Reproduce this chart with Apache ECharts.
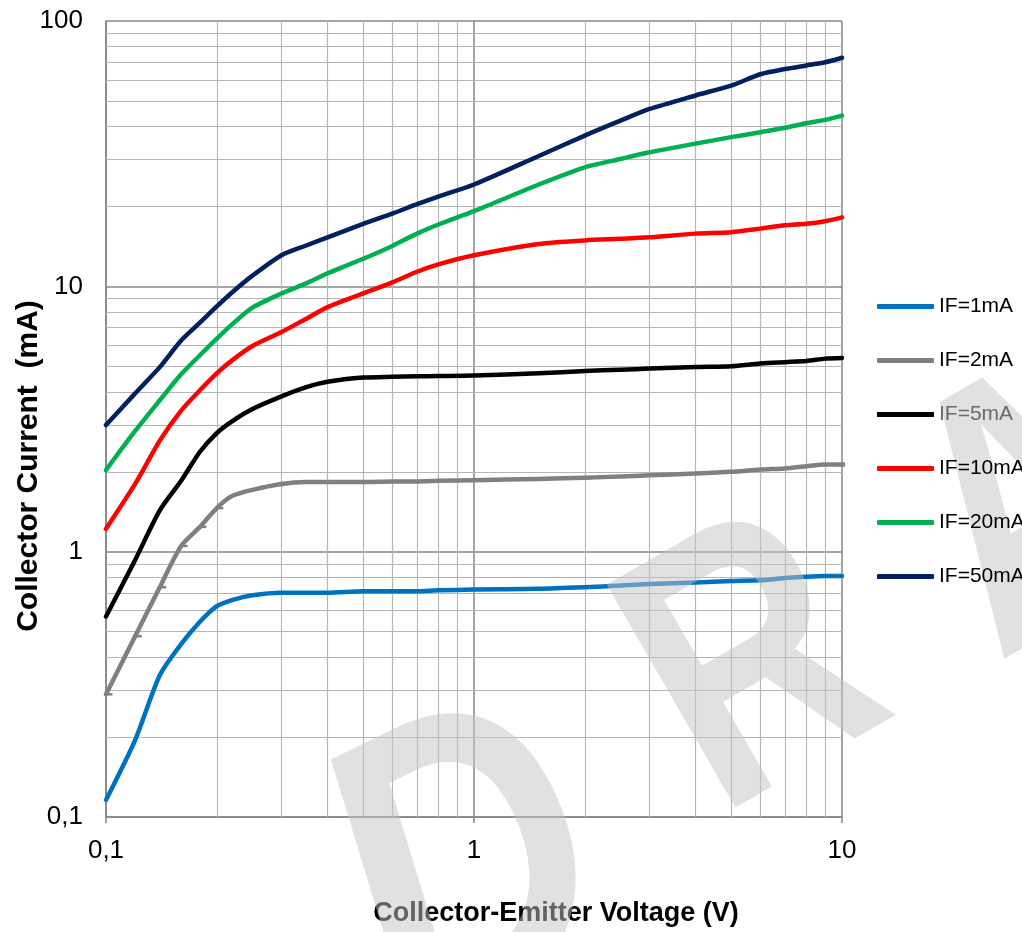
<!DOCTYPE html>
<html>
<head>
<meta charset="utf-8">
<script src="https://cdn.jsdelivr.net/npm/echarts@6/dist/echarts.min.js"></script>
<style>
html,body{margin:0;padding:0;background:#fff;}
#chart{width:1022px;height:932px;}
</style>
</head>
<body>
<div id="chart"></div>
<script>
// Collector-Emitter Voltage (V)
const voltages = [0.1, 0.12, 0.14, 0.16, 0.18, 0.2, 0.22, 0.25, 0.3, 0.35, 0.4, 0.5, 0.6, 0.7, 0.8, 1, 1.5, 2, 2.5, 3, 4, 5, 6, 7, 8, 9, 10];
// Collector Current (mA) per forward current
const if1mA  = [0.116, 0.195, 0.342, 0.448, 0.544, 0.623, 0.657, 0.685, 0.70, 0.70, 0.70, 0.71, 0.71, 0.71, 0.715, 0.72, 0.725, 0.735, 0.745, 0.755, 0.765, 0.775, 0.78, 0.795, 0.805, 0.81, 0.81];
const if2mA  = [0.29, 0.48, 0.735, 1.05, 1.24, 1.46, 1.62, 1.71, 1.80, 1.83, 1.83, 1.83, 1.84, 1.84, 1.85, 1.86, 1.88, 1.90, 1.92, 1.94, 1.97, 2.0, 2.04, 2.06, 2.10, 2.13, 2.13];
const if5mA  = [0.57, 0.93, 1.43, 1.85, 2.38, 2.80, 3.10, 3.45, 3.85, 4.17, 4.37, 4.53, 4.56, 4.58, 4.59, 4.61, 4.70, 4.80, 4.85, 4.90, 4.97, 5.0, 5.12, 5.18, 5.23, 5.34, 5.37];
const if10mA = [1.22, 1.80, 2.62, 3.40, 4.06, 4.70, 5.26, 5.96, 6.73, 7.55, 8.35, 9.4, 10.35, 11.35, 12.1, 13.1, 14.45, 14.9, 15.1, 15.3, 15.8, 16.0, 16.5, 17.0, 17.2, 17.6, 18.2];
const if20mA = [2.03, 2.85, 3.72, 4.66, 5.5, 6.35, 7.19, 8.31, 9.4, 10.26, 11.2, 12.7, 14.2, 15.8, 17.1, 19.2, 24.2, 28.1, 30.2, 32.0, 34.5, 36.5, 38.1, 39.6, 41.2, 42.4, 44.0];
const if50mA = [3.0, 3.95, 4.96, 6.25, 7.3, 8.4, 9.48, 10.97, 13.1, 14.25, 15.3, 17.2, 18.8, 20.4, 21.8, 24.2, 31.0, 37.0, 42.1, 46.6, 52.4, 57.1, 63.0, 65.9, 68.0, 69.9, 72.7];
const grayTail = [10.5, 2.13];

const seriesNames  = ['IF=1mA', 'IF=2mA', 'IF=5mA', 'IF=10mA', 'IF=20mA', 'IF=50mA'];
const seriesColors = ['#0070c0', '#808080', '#000000', '#ff0000', '#00b050', '#002060'];
const seriesValues = [if1mA, if2mA, if5mA, if10mA, if20mA, if50mA];

// axis ticks / gridlines
const xMinorGrid = [0.2, 0.3, 0.4, 0.5, 0.6, 0.7, 0.8, 0.9, 2, 3, 4, 5, 6, 7, 8, 9];
const yMinorGrid = [0.2, 0.3, 0.4, 0.5, 0.6, 0.7, 0.8, 0.9, 2, 3, 4, 5, 6, 7, 8, 9, 20, 30, 40, 50, 60, 70, 80, 90];
const yTickEnd = 0.0949; // a little below the y-axis minimum, used for outside x minor ticks
const watermarkLetters = ['D', 'R', 'A'];

const fmt = v => (+(+v).toPrecision(6)).toString().replace('.', ',');

const chart = echarts.init(document.getElementById('chart'), null, {renderer: 'canvas'});

const series = seriesNames.map((name, i) => {
  const data = voltages.map((v, k) => {
    const item = {value: [v, seriesValues[i][k]]};
    item.symbol = (i === 1 && k < 6) ? 'rect' : 'none';
    return item;
  });
  if (i === 1) data.push({value: grayTail, symbol: 'none'});
  return {
    name: name,
    type: 'line',
    data: data,
    smooth: 0.25,
    showSymbol: true,
    symbolSize: [7, 2.5],
    symbolOffset: [3, 0],
    clip: false,
    itemStyle: {color: seriesColors[i]},
    lineStyle: {color: seriesColors[i], width: 4.5, cap: 'round', join: 'round'},
    z: 3,
    animation: false
  };
});

series.unshift({
  name: 'grid',
  type: 'line',
  data: [],
  silent: true,
  clip: false,
  animation: false,
  markLine: {
    silent: true,
    symbol: ['none', 'none'],
    animation: false,
    z: 1,
    label: {show: false},
    lineStyle: {color: '#b6b6b6', width: 1.2, type: 'solid'},
    emphasis: {disabled: true},
    data: xMinorGrid.map(v => ({xAxis: v}))
      .concat(yMinorGrid.map(v => ({yAxis: v})))
      .concat(xMinorGrid.map(v => [
        {coord: [v, 0.1], lineStyle: {color: '#868686', width: 1.5}},
        {coord: [v, yTickEnd]}
      ]))
  }
});

const wmFill = 'rgba(196,196,196,0.5)';
const wmSpecs = [
  {x: 360, y: 938, rot: 0.454, size: 420, sx: 0.82, italic: true},
  {x: 667, y: 728, rot: 0.524, size: 374, sx: 0.78, italic: false},
  {x: 947, y: 574, rot: 0.524, size: 370, sx: 0.78, italic: false}
];

const legendData = seriesNames.map(n => n === 'IF=5mA'
  ? {name: n, icon: 'rect', textStyle: {color: '#6a6a6a'}}
  : {name: n});

const option = {
  backgroundColor: '#ffffff',
  animation: false,
  grid: {left: 106, right: 180, top: 21, bottom: 115, containLabel: false},
  xAxis: {
    type: 'log',
    logBase: 10,
    min: 0.1,
    max: 10,
    axisLine: {show: true, lineStyle: {color: '#868686', width: 1.5}},
    axisTick: {show: true, length: 6, lineStyle: {color: '#868686', width: 1.5}},
    splitLine: {show: true, lineStyle: {color: '#868686', width: 1.5}},
    axisLabel: {
      formatter: fmt,
      color: '#000',
      fontFamily: 'Liberation Sans, Arial, sans-serif',
      fontSize: 26,
      margin: 21
    }
  },
  yAxis: {
    type: 'log',
    logBase: 10,
    min: 0.1,
    max: 100,
    axisLine: {show: true, lineStyle: {color: '#868686', width: 1.5}},
    axisTick: {show: false},
    splitLine: {show: true, lineStyle: {color: '#868686', width: 1.5}},
    axisLabel: {
      formatter: fmt,
      color: '#000',
      fontFamily: 'Liberation Sans, Arial, sans-serif',
      fontSize: 26,
      margin: 23
    }
  },
  legend: {
    data: legendData,
    orient: 'vertical',
    left: 872,
    top: 291,
    itemWidth: 57,
    itemHeight: 5,
    itemGap: 33,
    icon: 'roundRect',
    z: 200,
    textStyle: {color: '#000', fontFamily: 'Liberation Sans, Arial, sans-serif', fontSize: 21},
    selectedMode: false
  },
  graphic: {
    elements: [
      {
        type: 'text',
        x: 29, y: 466,
        rotation: Math.PI / 2,
        style: {
          text: 'Collector Current  (mA)',
          font: 'bold 30px "Liberation Sans", Arial, sans-serif',
          fill: '#000',
          textAlign: 'center',
          textVerticalAlign: 'middle'
        },
        z: 10
      },
      {
        type: 'text',
        x: 556, y: 914,
        style: {
          text: 'Collector-Emitter Voltage (V)',
          font: 'bold 27px "Liberation Sans", Arial, sans-serif',
          fill: '#000',
          textAlign: 'center',
          textVerticalAlign: 'middle'
        },
        z: 10
      }
    ].concat(watermarkLetters.map((ch, i) => ({
      type: 'text',
      x: wmSpecs[i].x, y: wmSpecs[i].y,
      rotation: wmSpecs[i].rot,
      scaleX: wmSpecs[i].sx,
      silent: true,
      style: {
        text: ch,
        font: (wmSpecs[i].italic ? 'italic ' : '') + 'bold ' + wmSpecs[i].size + 'px "Liberation Sans", Arial, sans-serif',
        fill: wmFill,
        textAlign: 'left',
        textVerticalAlign: 'middle'
      },
      z: 100
    })))
  },
  series: series
};

chart.setOption(option);
</script>
</body>
</html>
